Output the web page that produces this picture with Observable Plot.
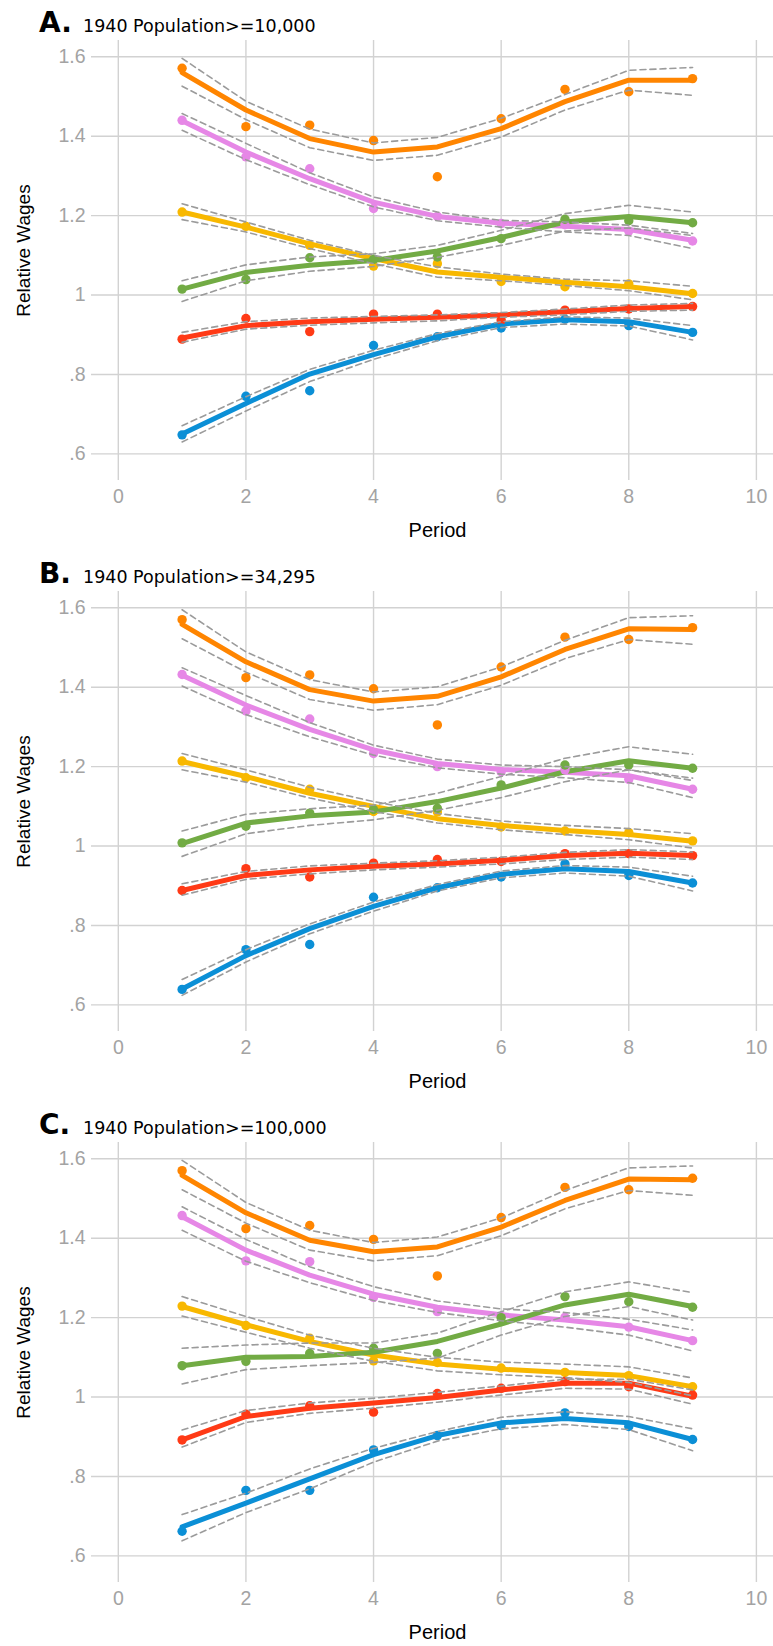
<!DOCTYPE html>
<html>
<head>
<meta charset="utf-8">
<script src="https://cdn.jsdelivr.net/npm/d3@7"></script>
<script src="https://cdn.jsdelivr.net/npm/@observablehq/plot@0.6"></script>
<style>
  html, body { margin: 0; padding: 0; background: #ffffff; }
  .panel { position: relative; width: 773px; height: 551px; }
  .panel svg.plot { display: block; }
  .panel svg.title { position: absolute; left: 0; top: 0; pointer-events: none; }
</style>
</head>
<body>
<div id="root"></div>
<script>
// ---------------- data ----------------
const periods = [1, 2, 3, 4, 5, 6, 7, 8, 9];
const seriesKeys = ["Group 1", "Group 2", "Group 3", "Group 4", "Group 5", "Group 6"];
const seriesColors = ["#ff8500", "#e687e6", "#f8b800", "#72ab44", "#ff3a16", "#0b8fd6"];
const xTicks = [0, 2, 4, 6, 8, 10];
const yTicks = [0.6, 0.8, 1, 1.2, 1.4, 1.6];
const yTickLabels = [".6", ".8", "1", "1.2", "1.4", "1.6"];
const panelLetters = ["A.", "B.", "C."];
const panelSubtitles = ["1940 Population>=10,000", "1940 Population>=34,295", "1940 Population>=100,000"];

// Panel A (rows follow seriesKeys order: orange, violet, yellow, green, red, blue)
const A_points = [
  [1.571, 1.424, 1.428, 1.389, 1.298, 1.444, 1.518, 1.512, 1.545],
  [1.440, 1.348, 1.318, 1.218, 1.198, 1.180, 1.177, 1.161, 1.136],
  [1.209, 1.173, 1.125, 1.073, 1.079, 1.034, 1.021, 1.028, 1.004],
  [1.015, 1.039, 1.094, 1.090, 1.096, 1.142, 1.191, 1.187, 1.182],
  [0.889, 0.941, 0.908, 0.952, 0.952, 0.937, 0.962, 0.965, 0.971],
  [0.648, 0.745, 0.759, 0.873, 0.895, 0.917, 0.939, 0.923, 0.906]
];
const A_fit = [
  [1.560, 1.466, 1.394, 1.360, 1.373, 1.419, 1.487, 1.541, 1.541],
  [1.439, 1.360, 1.293, 1.234, 1.198, 1.181, 1.173, 1.165, 1.138],
  [1.209, 1.171, 1.129, 1.092, 1.058, 1.045, 1.032, 1.021, 1.003],
  [1.015, 1.057, 1.075, 1.087, 1.111, 1.145, 1.184, 1.198, 1.182],
  [0.892, 0.923, 0.933, 0.939, 0.944, 0.950, 0.958, 0.966, 0.971],
  [0.650, 0.727, 0.801, 0.850, 0.895, 0.927, 0.938, 0.933, 0.906]
];
const A_upper = [
  [1.596, 1.488, 1.418, 1.383, 1.397, 1.445, 1.505, 1.566, 1.573],
  [1.457, 1.382, 1.308, 1.247, 1.209, 1.188, 1.184, 1.176, 1.155],
  [1.230, 1.184, 1.138, 1.100, 1.071, 1.053, 1.040, 1.036, 1.022],
  [1.036, 1.076, 1.096, 1.104, 1.125, 1.163, 1.205, 1.226, 1.209],
  [0.906, 0.933, 0.942, 0.946, 0.950, 0.956, 0.965, 0.975, 0.979],
  [0.671, 0.744, 0.813, 0.861, 0.903, 0.933, 0.945, 0.942, 0.923]
];
const A_lower = [
  [1.526, 1.442, 1.371, 1.339, 1.352, 1.398, 1.466, 1.516, 1.503],
  [1.415, 1.341, 1.278, 1.222, 1.187, 1.171, 1.159, 1.150, 1.117],
  [1.190, 1.159, 1.117, 1.079, 1.045, 1.036, 1.024, 1.011, 0.988],
  [0.984, 1.036, 1.060, 1.072, 1.095, 1.125, 1.161, 1.169, 1.150],
  [0.881, 0.914, 0.924, 0.930, 0.935, 0.944, 0.950, 0.959, 0.962],
  [0.630, 0.708, 0.782, 0.838, 0.885, 0.918, 0.927, 0.922, 0.887]
];

// Panel B
const B_points = [
  [1.570, 1.424, 1.431, 1.396, 1.305, 1.451, 1.526, 1.520, 1.550],
  [1.432, 1.340, 1.320, 1.233, 1.200, 1.187, 1.192, 1.168, 1.143],
  [1.214, 1.172, 1.143, 1.087, 1.086, 1.048, 1.038, 1.034, 1.013],
  [1.008, 1.050, 1.083, 1.092, 1.095, 1.154, 1.204, 1.204, 1.196],
  [0.888, 0.943, 0.922, 0.957, 0.966, 0.961, 0.981, 0.981, 0.976],
  [0.639, 0.739, 0.752, 0.871, 0.895, 0.922, 0.955, 0.926, 0.907]
];
const B_fit = [
  [1.558, 1.464, 1.394, 1.365, 1.377, 1.426, 1.495, 1.547, 1.545],
  [1.430, 1.355, 1.294, 1.242, 1.208, 1.193, 1.186, 1.177, 1.143],
  [1.213, 1.175, 1.133, 1.100, 1.069, 1.052, 1.039, 1.029, 1.012],
  [1.006, 1.058, 1.076, 1.086, 1.112, 1.146, 1.187, 1.215, 1.196],
  [0.888, 0.926, 0.940, 0.949, 0.955, 0.964, 0.976, 0.982, 0.976],
  [0.640, 0.724, 0.792, 0.848, 0.895, 0.929, 0.943, 0.936, 0.907]
];
const B_upper = [
  [1.595, 1.489, 1.419, 1.388, 1.401, 1.451, 1.518, 1.575, 1.580],
  [1.449, 1.379, 1.311, 1.254, 1.219, 1.204, 1.200, 1.192, 1.165],
  [1.233, 1.192, 1.148, 1.112, 1.082, 1.063, 1.052, 1.044, 1.031],
  [1.038, 1.080, 1.094, 1.103, 1.133, 1.175, 1.221, 1.250, 1.231],
  [0.905, 0.936, 0.950, 0.957, 0.963, 0.972, 0.984, 0.991, 0.985],
  [0.664, 0.739, 0.804, 0.859, 0.903, 0.937, 0.951, 0.947, 0.924]
];
const B_lower = [
  [1.522, 1.438, 1.369, 1.342, 1.356, 1.405, 1.472, 1.520, 1.508],
  [1.403, 1.331, 1.275, 1.229, 1.197, 1.181, 1.172, 1.160, 1.122],
  [1.192, 1.161, 1.121, 1.087, 1.058, 1.041, 1.029, 1.016, 0.995],
  [0.974, 1.031, 1.052, 1.066, 1.090, 1.122, 1.162, 1.192, 1.171],
  [0.876, 0.916, 0.930, 0.940, 0.947, 0.955, 0.966, 0.972, 0.966],
  [0.624, 0.708, 0.779, 0.836, 0.887, 0.920, 0.932, 0.924, 0.887]
];

// Panel C
const C_points = [
  [1.570, 1.424, 1.432, 1.397, 1.305, 1.452, 1.528, 1.522, 1.551],
  [1.457, 1.343, 1.341, 1.251, 1.215, 1.203, 1.201, 1.176, 1.142],
  [1.229, 1.180, 1.148, 1.091, 1.087, 1.073, 1.062, 1.054, 1.026],
  [1.079, 1.090, 1.110, 1.123, 1.110, 1.200, 1.253, 1.240, 1.226],
  [0.892, 0.957, 0.978, 0.962, 1.009, 1.022, 1.039, 1.026, 1.005],
  [0.662, 0.765, 0.765, 0.867, 0.903, 0.928, 0.960, 0.926, 0.893]
];
const C_fit = [
  [1.558, 1.464, 1.395, 1.366, 1.378, 1.428, 1.495, 1.549, 1.547],
  [1.454, 1.370, 1.307, 1.259, 1.226, 1.207, 1.194, 1.177, 1.142],
  [1.228, 1.182, 1.140, 1.106, 1.083, 1.070, 1.062, 1.054, 1.026],
  [1.079, 1.100, 1.102, 1.113, 1.140, 1.184, 1.232, 1.259, 1.228],
  [0.892, 0.951, 0.972, 0.985, 0.999, 1.018, 1.035, 1.035, 1.002],
  [0.673, 0.733, 0.794, 0.855, 0.903, 0.935, 0.946, 0.935, 0.893]
];
const C_upper = [
  [1.596, 1.490, 1.420, 1.389, 1.403, 1.451, 1.520, 1.577, 1.582],
  [1.479, 1.397, 1.328, 1.278, 1.242, 1.222, 1.213, 1.196, 1.169],
  [1.253, 1.203, 1.156, 1.123, 1.100, 1.088, 1.083, 1.076, 1.048],
  [1.123, 1.131, 1.136, 1.136, 1.161, 1.215, 1.265, 1.290, 1.263],
  [0.917, 0.966, 0.985, 0.997, 1.012, 1.028, 1.045, 1.045, 1.018],
  [0.704, 0.758, 0.819, 0.871, 0.913, 0.949, 0.963, 0.951, 0.920]
];
const C_lower = [
  [1.522, 1.438, 1.370, 1.343, 1.356, 1.406, 1.474, 1.520, 1.508],
  [1.420, 1.342, 1.288, 1.243, 1.213, 1.192, 1.176, 1.156, 1.116],
  [1.204, 1.163, 1.123, 1.090, 1.066, 1.056, 1.049, 1.037, 1.003],
  [1.033, 1.069, 1.079, 1.087, 1.098, 1.156, 1.203, 1.228, 1.194],
  [0.874, 0.936, 0.959, 0.972, 0.987, 1.005, 1.022, 1.020, 0.982],
  [0.638, 0.709, 0.769, 0.836, 0.889, 0.920, 0.931, 0.918, 0.865]
];

const panels = [
  {points: A_points, fit: A_fit, upper: A_upper, lower: A_lower},
  {points: B_points, fit: B_fit, upper: B_upper, lower: B_lower},
  {points: C_points, fit: C_fit, upper: C_upper, lower: C_lower}
];

// ---------------- drawing ----------------
function tidy(matrix, tag) {
  const rows = [];
  matrix.forEach((vals, si) => {
    vals.forEach((v, pi) => rows.push({series: seriesKeys[si], key: seriesKeys[si] + tag, period: periods[pi], value: v}));
  });
  return rows;
}

const root = document.getElementById("root");
const gridStyle = {stroke: "#d2d2d2", strokeOpacity: 1, strokeWidth: 1.4};
const labelFont = "'Liberation Sans', Arial, sans-serif";

panels.forEach((p, k) => {
  const pts = tidy(p.points, "");
  const fit = tidy(p.fit, "");
  const ci = tidy(p.upper, "-u").concat(tidy(p.lower, "-l"));

  const chart = Plot.plot({
    width: 773,
    height: 551,
    marginTop: 40,
    marginBottom: 71,
    marginLeft: 91,
    marginRight: 0,
    x: {domain: [-0.42, 10.268], label: null},
    y: {domain: [0.533, 1.641], label: null},
    color: {type: "ordinal", domain: seriesKeys, range: seriesColors},
    style: {fontFamily: labelFont, fontSize: "19.5px", background: "#ffffff", color: "#a3a3a3"},
    marks: [
      Plot.gridX({ticks: xTicks, ...gridStyle}),
      Plot.gridY({ticks: yTicks, ...gridStyle}),
      Plot.axisX({ticks: xTicks, tickSize: 0, tickPadding: 9, label: null, fill: "#a3a3a3"}),
      Plot.axisY({ticks: yTicks, tickSize: 0, tickPadding: 6, label: null, fill: "#a3a3a3",
                  tickFormat: d => yTickLabels[yTicks.indexOf(d)]}),
      Plot.line(fit, {x: "period", y: "value", z: "series", stroke: "series", strokeWidth: 5, strokeLinejoin: "round", strokeLinecap: "round"}),
      Plot.dot(pts, {x: "period", y: "value", fill: "series", r: 4.7}),
      Plot.line(ci, {x: "period", y: "value", z: "key", stroke: "#9b9b9b", strokeWidth: 1.6, strokeDasharray: "6,4"}),
      Plot.text(["Period"], {frameAnchor: "bottom", textAnchor: "middle", lineAnchor: "middle", dx: 5, dy: 50, fill: "#000000", fontSize: 20, fontFamily: labelFont}),
      Plot.text(["Relative Wages"], {frameAnchor: "left", textAnchor: "middle", lineAnchor: "middle", rotate: -90, dx: -68, dy: -10, fill: "#000000", fontSize: 19, fontFamily: labelFont})
    ]
  });
  chart.classList.add("plot");

  const div = document.createElement("div");
  div.className = "panel";
  div.appendChild(chart);

  // panel title
  const ns = "http://www.w3.org/2000/svg";
  const t = document.createElementNS(ns, "svg");
  t.setAttribute("class", "title");
  t.setAttribute("width", 773);
  t.setAttribute("height", 40);
  const a = document.createElementNS(ns, "text");
  a.setAttribute("x", 39);
  a.setAttribute("y", 31.7);
  a.setAttribute("font-family", "'DejaVu Sans', Verdana, sans-serif");
  a.setAttribute("font-weight", "bold");
  a.setAttribute("font-size", "28");
  a.setAttribute("fill", "#000");
  a.textContent = panelLetters[k];
  const s = document.createElementNS(ns, "text");
  s.setAttribute("x", 83);
  s.setAttribute("y", 31.7);
  s.setAttribute("font-family", "'DejaVu Sans', Verdana, sans-serif");
  s.setAttribute("font-size", "17.5");
  s.setAttribute("fill", "#000");
  s.textContent = panelSubtitles[k];
  t.appendChild(a);
  t.appendChild(s);
  div.appendChild(t);

  root.appendChild(div);
});
</script>
</body>
</html>
